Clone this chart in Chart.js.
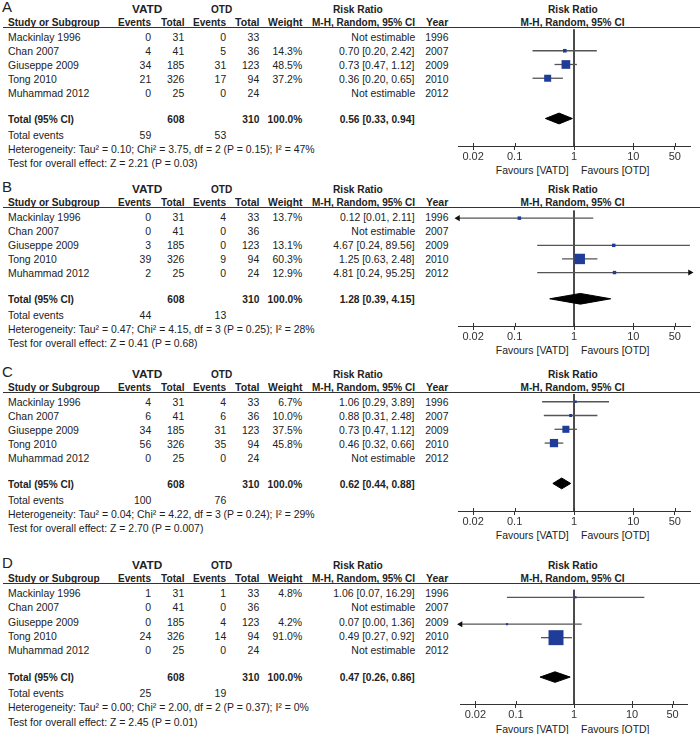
<!DOCTYPE html>
<html><head><meta charset="utf-8">
<script src="https://cdn.jsdelivr.net/npm/chart.js@4"></script>
<style>
body{margin:0;background:#fff;}
#wrap{position:relative;width:700px;height:734px;overflow:hidden;font-family:"Liberation Sans",Arial,sans-serif;font-size:11px;color:#222;}
.t{position:absolute;height:14px;line-height:14px;white-space:nowrap;}
.t span{display:inline-block;}
.b{font-weight:bold;}
.hl{position:absolute;height:1px;background:#333;}
canvas{position:absolute;}
</style></head><body><div id="wrap"></div>
<script>
// ---------- DATA ----------
const panelLabels = ["A", "B", "C", "D"];
const studies = ["Mackinlay 1996", "Chan 2007", "Giuseppe 2009", "Tong 2010", "Muhammad 2012"];
const years = [1996, 2007, 2009, 2010, 2012];
const vatdTotals = [31, 41, 185, 326, 25];
const otdTotals = [33, 36, 123, 94, 24];
const vatdEvents = [[0, 4, 34, 21, 0], [0, 0, 3, 39, 2], [4, 6, 34, 56, 0], [1, 0, 0, 24, 0]];
const otdEvents = [[0, 5, 31, 17, 0], [4, 0, 0, 9, 0], [4, 6, 31, 35, 0], [1, 0, 4, 14, 0]];
const weights = [[null, 14.3, 48.5, 37.2, null], [13.7, null, 13.1, 60.3, 12.9], [6.7, 10.0, 37.5, 45.8, null], [4.8, null, 4.2, 91.0, null]];
const rr = [[null, 0.70, 0.73, 0.36, null], [0.12, null, 4.67, 1.25, 4.81], [1.06, 0.88, 0.73, 0.46, null], [1.06, null, 0.07, 0.49, null]];
const ciLow = [[null, 0.20, 0.47, 0.20, null], [0.01, null, 0.24, 0.63, 0.24], [0.29, 0.31, 0.47, 0.32, null], [0.07, null, 0.00, 0.27, null]];
const ciHigh = [[null, 2.42, 1.12, 0.65, null], [2.11, null, 89.56, 2.48, 95.25], [3.89, 2.48, 1.12, 0.66, null], [16.29, null, 1.36, 0.92, null]];
const sumVatdTotal = 608, sumOtdTotal = 310;
const totalRR = [0.56, 1.28, 0.62, 0.47];
const totalLow = [0.33, 0.39, 0.44, 0.26];
const totalHigh = [0.94, 4.15, 0.88, 0.86];
const totalEventsVatd = [59, 44, 100, 25];
const totalEventsOtd = [53, 13, 76, 19];
const tau2 = ["0.10", "0.47", "0.04", "0.00"];
const chi2 = ["3.75", "4.15", "4.22", "2.00"];
const dfs = [2, 3, 3, 2];
const pHet = ["0.15", "0.25", "0.24", "0.37"];
const i2 = [47, 28, 29, 0];
const zVals = ["2.21", "0.41", "2.70", "2.45"];
const pZ = ["0.03", "0.68", "0.007", "0.01"];
const tickValues = [0.02, 0.1, 1, 10, 50];

// ---------- LAYOUT ----------
const panelTop = [27, 207, 392, 583];
const panelScale = [1, 1, 1, 1.02];
const AX_MIN = 1 / 90, AX_MAX = 90;
const ROW = 14;
const Y_MIN = -8 / ROW, Y_MAX = (119 - 8) / ROW, Y_TOTAL = (91 - 8) / ROW;
const wrap = document.getElementById('wrap');

function txt(str, x, yc, align, cls, target) {
  const d = document.createElement('div');
  d.className = 't' + (cls ? ' ' + cls : '');
  const sp = document.createElement('span');
  sp.textContent = str;
  d.appendChild(sp);
  d.style.top = (yc - 7) + 'px';
  if (align === 'r') { d.style.left = (x - 300) + 'px'; d.style.width = '300px'; d.style.textAlign = 'right'; sp.style.transformOrigin = 'right center'; }
  else if (align === 'c') { d.style.left = (x - 150) + 'px'; d.style.width = '300px'; d.style.textAlign = 'center'; sp.style.transformOrigin = 'center center'; }
  else { d.style.left = x + 'px'; sp.style.transformOrigin = 'left center'; }
  wrap.appendChild(d);
  let k = cls === 'b' ? 0.93 : 0.95;
  if (target) k = target / sp.offsetWidth;
  sp.style.transform = 'scaleX(' + k.toFixed(3) + ')';
  return d;
}
const f2 = v => v.toFixed(2);
const ci = (e, l, h) => f2(e) + ' [' + f2(l) + ', ' + f2(h) + ']';
const clamp = v => Math.min(AX_MAX, Math.max(AX_MIN, v));

const tickUp = {
  id: 'tickUp',
  afterDraw(chart) {
    const xs = chart.scales.x, ctx = chart.ctx, y0 = chart.chartArea.bottom;
    ctx.save(); ctx.strokeStyle = '#333'; ctx.lineWidth = 1;
    tickValues.forEach(v => {
      const x = Math.round(xs.getPixelForValue(v)) + 0.5;
      ctx.beginPath(); ctx.moveTo(x, y0 - 3); ctx.lineTo(x, y0); ctx.stroke();
    });
    ctx.restore();
  }
};

function panel(p) {
  const L = panelTop[p], s = panelScale[p];
  const Y = off => L + off * s;
  // letter
  const lt = txt(panelLabels[p], 2, Y(-20), 'l', null, null);
  lt.style.fontSize = '15px'; lt.style.height = '18px'; lt.style.lineHeight = '18px'; lt.style.top = (Y(-20) - 9) + 'px';
  lt.firstChild.style.transform = 'none';
  // headers
  txt('VATD', 147, Y(-18), 'c', 'b', 30);
  txt('OTD', 222, Y(-18), 'c', 'b', 21);
  txt('Risk Ratio', 358, Y(-18), 'c', 'b', 50);
  txt('Risk Ratio', 573, Y(-18), 'c', 'b', 50);
  txt('Study or Subgroup', 8, Y(-5), 'l', 'b', 92);
  txt('Events', 151, Y(-5), 'r', 'b', 33);
  txt('Total', 184, Y(-5), 'r', 'b', 23);
  txt('Events', 226, Y(-5), 'r', 'b', 33);
  txt('Total', 259, Y(-5), 'r', 'b', 24);
  txt('Weight', 302, Y(-5), 'r', 'b', 34);
  txt('M-H, Random, 95% CI', 415, Y(-5), 'r', 'b', 103);
  txt('Year', 448, Y(-5), 'r', 'b', 22);
  txt('M-H, Random, 95% CI', 573, Y(-5), 'c', 'b', 104);
  const hl = document.createElement('div');
  hl.className = 'hl'; hl.style.left = '3px'; hl.style.width = '697px'; hl.style.top = Math.round(L) + 'px';
  wrap.appendChild(hl);
  // rows
  studies.forEach((st, k) => {
    const yc = Y(10 + ROW * k);
    txt(st, 8, yc, 'l');
    txt(String(vatdEvents[p][k]), 151, yc, 'r');
    txt(String(vatdTotals[k]), 184, yc, 'r');
    txt(String(otdEvents[p][k]), 226, yc, 'r');
    txt(String(otdTotals[k]), 259, yc, 'r');
    if (weights[p][k] !== null) txt(weights[p][k].toFixed(1) + '%', 302, yc, 'r');
    txt(rr[p][k] === null ? 'Not estimable' : ci(rr[p][k], ciLow[p][k], ciHigh[p][k]), 415, yc, 'r');
    txt(String(years[k]), 448, yc, 'r');
  });
  txt('Total (95% CI)', 8, Y(92), 'l', 'b', 66);
  txt(String(sumVatdTotal), 184, Y(92), 'r', 'b');
  txt(String(sumOtdTotal), 259, Y(92), 'r', 'b');
  txt('100.0%', 302, Y(92), 'r', 'b');
  txt(ci(totalRR[p], totalLow[p], totalHigh[p]), 415, Y(92), 'r', 'b');
  txt('Total events', 8, Y(108), 'l');
  txt(String(totalEventsVatd[p]), 151, Y(108), 'r');
  txt(String(totalEventsOtd[p]), 226, Y(108), 'r');
  txt('Heterogeneity: Tau\u00b2 = ' + tau2[p] + '; Chi\u00b2 = ' + chi2[p] + ', df = ' + dfs[p] + ' (P = ' + pHet[p] + '); I\u00b2 = ' + i2[p] + '%', 8, Y(122), 'l');
  txt('Test for overall effect: Z = ' + zVals[p] + ' (P = ' + pZ[p] + ')', 8, Y(136), 'l');
  txt('Favours [VATD]', 569, Y(143), 'r');
  txt('Favours [OTD]', 581, Y(143), 'l');

  // chart
  const padL = 8, padR = 8, padT = 4, axisH = 22;
  const plotH = Math.round(119 * s);
  const W = 232 + padL + padR, H = plotH + padT + axisH;
  const cv = document.createElement('canvas');
  cv.width = W; cv.height = H;
  cv.style.left = (458 - padL) + 'px'; cv.style.top = (Math.round(L) - padT) + 'px';
  cv.style.width = W + 'px'; cv.style.height = H + 'px';
  wrap.appendChild(cv);

  const datasets = [];
  const sq = [], sqR = [];
  rr[p].forEach((v, k) => {
    if (v === null) return;
    sq.push({ x: v, y: k });
    const side = 1.5 + 0.148 * weights[p][k];
    sqR.push(side / Math.SQRT2);
  });
  datasets.push({ data: sq, pointStyle: 'rect', pointRadius: sqR, pointBackgroundColor: '#1f3c98', pointBorderWidth: 0, borderWidth: 0, order: 0, clip: false });
  const dh = 5.5 / ROW;
  datasets.push({
    data: [{ x: totalHigh[p], y: Y_TOTAL }, { x: totalRR[p], y: Y_TOTAL - dh }, { x: totalLow[p], y: Y_TOTAL }, { x: totalRR[p], y: Y_TOTAL + dh }, { x: totalHigh[p], y: Y_TOTAL }],
    showLine: true, fill: 'shape', backgroundColor: '#000', borderColor: '#000', borderWidth: 1, pointRadius: 0, order: 0
  });
  rr[p].forEach((v, k) => {
    if (v === null) return;
    const lo = ciLow[p][k], hi = ciHigh[p][k];
    datasets.push({
      data: [{ x: clamp(lo), y: k }, { x: clamp(hi), y: k }],
      showLine: true, borderColor: '#555', borderWidth: 1.3,
      pointStyle: 'triangle', pointRadius: [lo < AX_MIN ? 3.5 : 0, hi > AX_MAX ? 3.5 : 0],
      pointRotation: [-90, 90], pointBackgroundColor: '#111', pointBorderWidth: 0, clip: false, order: 1
    });
  });
  datasets.push({ data: [{ x: 1, y: Y_MIN }, { x: 1, y: Y_MAX }], showLine: true, borderColor: '#333', borderWidth: 1, pointRadius: 0, order: 2 });

  new Chart(cv, {
    type: 'scatter',
    data: { datasets },
    options: {
      responsive: false, animation: false, devicePixelRatio: 1,
      layout: { padding: { left: padL, right: padR, top: padT, bottom: 0 } },
      plugins: { legend: { display: false }, tooltip: { enabled: false } },
      scales: {
        x: {
          type: 'logarithmic', min: AX_MIN, max: AX_MAX, bounds: 'data',
          afterBuildTicks: sc => { sc.ticks = tickValues.map(v => ({ value: v })); },
          afterFit: sc => { sc.height = axisH; },
          grid: { drawOnChartArea: false, drawTicks: true, tickLength: 4, color: '#333' },
          border: { display: true, color: '#333', width: 1 },
          ticks: { padding: 0, color: '#333', autoSkip: false, maxRotation: 0, font: { family: 'Liberation Sans', size: 11 }, callback: v => String(v) }
        },
        y: { type: 'linear', reverse: true, min: Y_MIN, max: Y_MAX, display: false }
      }
    },
    plugins: [tickUp]
  });
}
panelLabels.forEach((_, p) => panel(p));
</script></body></html>
